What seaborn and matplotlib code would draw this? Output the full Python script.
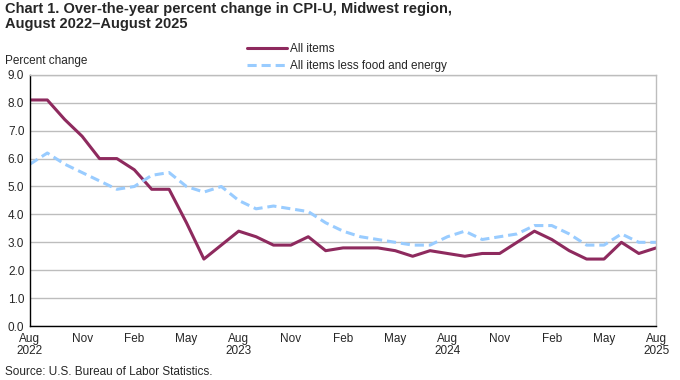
import numpy as np
import pandas as pd
import matplotlib
matplotlib.use("Agg")
import matplotlib.pyplot as plt
import seaborn as sns

# -----------------------------
# DATA (Aug 2022 - Aug 2025)
# -----------------------------
months = pd.date_range("2022-08-01", "2025-08-01", freq="MS")

all_items = [8.1, 8.1, 7.4, 6.8, 6.0, 6.0, 5.6, 4.9, 4.9, 3.7, 2.4, 2.9,
             3.4, 3.2, 2.9, 2.9, 3.2, 2.7, 2.8, 2.8, 2.8, 2.7, 2.5, 2.7,
             2.6, 2.5, 2.6, 2.6, 3.0, 3.4, 3.1, 2.7, 2.4, 2.4, 3.0, 2.6,
             2.8]

core = [5.8, 6.2, 5.8, 5.5, 5.2, 4.9, 5.0, 5.4, 5.5, 5.0, 4.8, 5.0,
        4.5, 4.2, 4.3, 4.2, 4.1, 3.7, 3.4, 3.2, 3.1, 3.0, 2.9, 2.9,
        3.2, 3.4, 3.1, 3.2, 3.3, 3.6, 3.6, 3.3, 2.9, 2.9, 3.3, 3.0,
        3.0]

series_names = ["All items", "All items less food and energy"]
colors = {"All items": "#8E2A5E", "All items less food and energy": "#99CCFF"}

df = pd.DataFrame({
    "month": np.arange(len(months)),
    "All items": all_items,
    "All items less food and energy": core,
})
long_df = df.melt(id_vars="month", var_name="series", value_name="pct")

# -----------------------------
# PLOT
# -----------------------------
sns.set_style("white")
plt.rcParams["font.family"] = ["Liberation Sans", "DejaVu Sans"]

fig = plt.figure(figsize=(6.8, 3.8), dpi=100)
ax = fig.add_axes([0.044, 0.142, 0.921, 0.661])

sns.lineplot(data=long_df, x="month", y="pct", hue="series", style="series",
             hue_order=series_names, style_order=series_names,
             palette=colors, dashes={"All items": "", "All items less food and energy": (3, 1.6)},
             linewidth=2.2, legend=False, ax=ax)

ax.set_xlim(0, len(months) - 1)
ax.set_ylim(0, 9)
ax.set_yticks(np.arange(0, 9.01, 1.0))
ax.set_yticklabels([f"{v:.1f}" for v in np.arange(0, 9.01, 1.0)], fontsize=8.5)
ax.yaxis.grid(True, color="#BDBDBD", linewidth=1.0)
ax.set_axisbelow(True)
ax.tick_params(axis="y", length=0, pad=4)

major = np.arange(0, len(months), 3)
labels = []
for i in major:
    m = months[i]
    lab = m.strftime("%b")
    if m.month == 8:
        lab += "\n" + str(m.year)
    labels.append(lab)
ax.set_xticks(major)
ax.set_xticklabels(labels, fontsize=8.5, linespacing=1.0)
ax.set_xticks(np.arange(len(months)), minor=True)
ax.tick_params(axis="x", which="both", direction="inout", length=6, width=1.0,
               color="black", pad=2)

for s in ["left", "bottom"]:
    ax.spines[s].set_color("black")
    ax.spines[s].set_linewidth(1.0)
for s in ["top", "right"]:
    ax.spines[s].set_color("#BDBDBD")
    ax.spines[s].set_linewidth(1.0)
ax.set_xlabel("")
ax.set_ylabel("")

# legend drawn like the reference
handles = [plt.Line2D([], [], color=colors["All items"], lw=2.2),
           plt.Line2D([], [], color=colors["All items less food and energy"], lw=2.2,
                      dashes=(3, 1.6))]
fig.legend(handles, series_names, loc="upper left", bbox_to_anchor=(0.354, 0.902),
           frameon=False, fontsize=8.5, handlelength=3.4, handletextpad=0.25,
           labelspacing=0.45, borderpad=0)

fig.text(0.008, 0.995, "Chart 1. Over-the-year percent change in CPI-U, Midwest region,\nAugust 2022\u2013August 2025",
         ha="left", va="top", fontsize=10.5, fontweight="bold", linespacing=1.1)
fig.text(0.008, 0.84, "Percent change", ha="left", va="center", fontsize=8.5)
fig.text(0.008, 0.005, "Source: U.S. Bureau of Labor Statistics.", ha="left", va="bottom", fontsize=8.5)

fig.savefig("out.png", dpi=100)
